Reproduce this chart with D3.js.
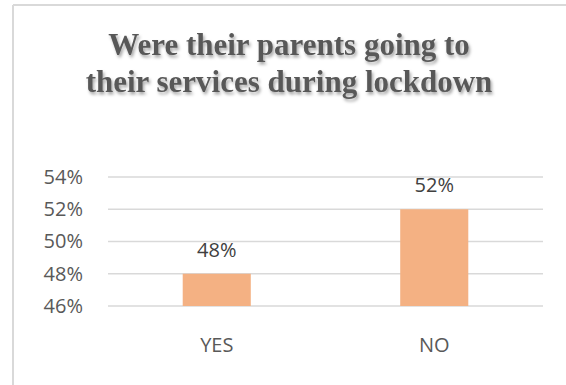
<!DOCTYPE html>
<html>
<head>
<meta charset="utf-8">
<script src="https://cdn.jsdelivr.net/npm/d3@7"></script>
<style>
  html, body { margin: 0; padding: 0; background: #fff; }
  svg { display: block; }
</style>
</head>
<body>
<div id="chart"></div>
<script>
const categories = ["YES", "NO"];
const values = [0.48, 0.52];
const tickValues = [0.46, 0.48, 0.50, 0.52, 0.54];
const titleLines = ["Were their parents going to", "their services during lockdown"];

const W = 566, H = 385;
const margin = { top: 177, right: 23, bottom: 79, left: 108 };

const svg = d3.select("#chart").append("svg")
    .attr("width", W)
    .attr("height", H);

// petite ombre sous le titre
const defs = svg.append("defs");
defs.append("filter")
    .attr("id", "ombre")
    .attr("x", "-10%").attr("y", "-30%")
    .attr("width", "120%").attr("height", "160%")
  .append("feDropShadow")
    .attr("dx", 1.5).attr("dy", 2.5)
    .attr("stdDeviation", 1.6)
    .attr("flood-color", "#000")
    .attr("flood-opacity", 0.35);

// cadre (haut + gauche)
svg.append("line")
    .attr("x1", 13).attr("x2", W).attr("y1", 5).attr("y2", 5)
    .attr("stroke", "#d9d9d9").attr("stroke-width", 2);
svg.append("line")
    .attr("x1", 13).attr("x2", 13).attr("y1", 5).attr("y2", H)
    .attr("stroke", "#d9d9d9").attr("stroke-width", 2);

// titre
svg.append("text")
    .attr("text-anchor", "middle")
    .attr("font-family", "'Liberation Serif', 'Times New Roman', serif")
    .attr("font-weight", "bold")
    .attr("font-size", 31)
    .attr("fill", "#595959")
    .attr("filter", "url(#ombre)")
  .selectAll("tspan")
  .data(titleLines)
  .join("tspan")
    .attr("x", 289)
    .attr("y", (d, i) => 55 + i * 36.5)
    .text(d => d);

const x = d3.scaleBand()
    .domain(categories)
    .range([margin.left, W - margin.right])
    .paddingInner(0.687)
    .paddingOuter(0.3435);

const y = d3.scaleLinear()
    .domain([0.46, 0.54])
    .range([H - margin.bottom, margin.top]);

const fmt = d3.format(".0%");
const font = "'Open Sans', 'Segoe UI', sans-serif";

// lignes de grille
svg.append("g")
  .selectAll("line")
  .data(tickValues)
  .join("line")
    .attr("x1", margin.left)
    .attr("x2", W - margin.right)
    .attr("y1", d => y(d))
    .attr("y2", d => y(d))
    .attr("stroke", "#d9d9d9")
    .attr("stroke-width", 1.5);

// axe Y
const yAxis = svg.append("g")
    .attr("transform", `translate(${margin.left - 25},0)`)
    .call(d3.axisLeft(y).tickValues(tickValues).tickFormat(fmt).tickSize(0).tickPadding(0));
yAxis.select(".domain").remove();
yAxis.selectAll("text")
    .attr("font-family", font)
    .attr("font-size", 20)
    .attr("fill", "#595959");

// barres
svg.append("g")
  .selectAll("rect")
  .data(values)
  .join("rect")
    .attr("x", (d, i) => x(categories[i]))
    .attr("y", d => y(d))
    .attr("width", x.bandwidth())
    .attr("height", d => y(0.46) - y(d))
    .attr("fill", "#F4B183");

// étiquettes de valeurs
svg.append("g")
  .selectAll("text")
  .data(values)
  .join("text")
    .attr("x", (d, i) => x(categories[i]) + x.bandwidth() / 2)
    .attr("y", d => y(d) - 17)
    .attr("text-anchor", "middle")
    .attr("font-family", font)
    .attr("font-size", 20)
    .attr("fill", "#404040")
    .text(d => fmt(d));

// axe X (catégories)
const xAxis = svg.append("g")
    .attr("transform", `translate(0,${y(0.46)})`)
    .call(d3.axisBottom(x).tickSize(0).tickPadding(32));
xAxis.select(".domain").remove();
xAxis.selectAll("text")
    .attr("font-family", font)
    .attr("font-size", 20)
    .attr("fill", "#595959");
</script>
</body>
</html>
